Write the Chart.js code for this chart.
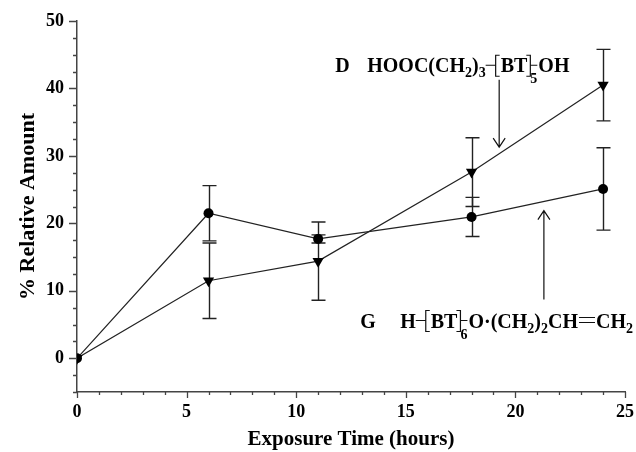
<!DOCTYPE html>
<html>
<head>
<meta charset="utf-8">
<script src="https://cdn.jsdelivr.net/npm/chart.js@4.4.0/dist/chart.umd.min.js"></script>
<style>
  html, body { margin: 0; padding: 0; background: #fff; }
</style>
</head>
<body>
<canvas id="myChart" width="636" height="452"></canvas>
<script>
// data
var hours = [0, 6, 11, 18, 24];
var amountD = [0, 11.5, 14.4, 27.6, 40.5];
var errD = [0, 5.6, 5.8, 5.1, 5.3];
var amountG = [0, 21.5, 17.7, 20.95, 25.1];
var errG = [0, 4.1, 0.6, 2.9, 6.1];
var xTickLabels = [0, 5, 10, 15, 20, 25];
var yTickLabels = [0, 10, 20, 30, 40, 50];

var serif = '"Liberation Serif", "Times New Roman", serif';
var lineCol = '#222';
var axisCol = '#444';

function points(xs, ys) {
    return xs.map(function (x, i) { return { x: x, y: ys[i] }; });
}

// error bars drawn under the markers
var errorBars = {
    id: 'errorBars',
    beforeDatasetsDraw: function (chart) {
        var ctx = chart.ctx, xs = chart.scales.x, ys = chart.scales.y;
        ctx.save();
        ctx.strokeStyle = lineCol;
        ctx.lineWidth = 1.4;
        chart.data.datasets.forEach(function (ds) {
            ds.data.forEach(function (pt, i) {
                var e = ds.errors[i];
                if (!e) return;
                var px = Math.round(xs.getPixelForValue(pt.x)) + 0.5;
                var top = ys.getPixelForValue(pt.y + e);
                var bot = ys.getPixelForValue(pt.y - e);
                ctx.beginPath();
                ctx.moveTo(px, top); ctx.lineTo(px, bot);
                ctx.moveTo(px - 7, top); ctx.lineTo(px + 7, top);
                ctx.moveTo(px - 7, bot); ctx.lineTo(px + 7, bot);
                ctx.stroke();
            });
        });
        ctx.restore();
    }
};

// major / minor tick marks and axis titles
var axisDecor = {
    id: 'axisDecor',
    afterDraw: function (chart) {
        var ctx = chart.ctx, xs = chart.scales.x, ys = chart.scales.y, a = chart.chartArea;
        ctx.save();
        ctx.strokeStyle = axisCol;
        ctx.lineWidth = 1.3;
        ctx.beginPath();
        for (var v = 0; v <= 25; v++) {
            var px = Math.round(xs.getPixelForValue(v)) + 0.5;
            ctx.moveTo(px, a.bottom);
            ctx.lineTo(px, a.bottom + (v % 5 === 0 ? 6 : 3));
        }
        for (var w = -5; w <= 50; w += 2.5) {
            var py = Math.round(ys.getPixelForValue(w)) + 0.5;
            ctx.moveTo(a.left, py);
            ctx.lineTo(a.left - (w % 10 === 0 ? 8 : 4), py);
        }
        ctx.stroke();

        ctx.fillStyle = '#000';
        ctx.font = 'bold 21px ' + serif;
        ctx.textAlign = 'center';
        ctx.textBaseline = 'alphabetic';
        ctx.fillText('Exposure Time (hours)', (a.left + a.right) / 2, 445);
        ctx.font = 'bold 22px ' + serif;
        ctx.translate(34, (a.top + a.bottom) / 2);
        ctx.rotate(-Math.PI / 2);
        ctx.fillText('% Relative Amount', 0, 0);
        ctx.restore();
    }
};

// structure labels with arrows
function drawFormula(ctx, x, y, parts) {
    var big = 'bold 20px ' + serif, small = 'bold 14px ' + serif;
    ctx.textAlign = 'left';
    ctx.textBaseline = 'alphabetic';
    parts.forEach(function (p) {
        if (p.t === 'txt') {
            ctx.font = big;
            ctx.fillText(p.s, x, y);
            x += ctx.measureText(p.s).width;
        } else if (p.t === 'sub') {
            ctx.font = small;
            ctx.fillText(p.s, x, y + 5);
            x += ctx.measureText(p.s).width;
        } else if (p.t === 'open') {
            ctx.beginPath();
            ctx.moveTo(x, y - 7); ctx.lineTo(x + 10, y - 7);
            ctx.moveTo(x + 14, y - 17); ctx.lineTo(x + 10, y - 17);
            ctx.lineTo(x + 10, y + 4); ctx.lineTo(x + 14, y + 4);
            ctx.stroke();
            x += 15;
        } else if (p.t === 'close') {
            ctx.beginPath();
            ctx.moveTo(x - 1, y - 17); ctx.lineTo(x + 3, y - 17);
            ctx.lineTo(x + 3, y + 4); ctx.lineTo(x - 1, y + 4);
            ctx.moveTo(x + 3, y - 7); ctx.lineTo(x + 10, y - 7);
            ctx.stroke();
            ctx.font = small;
            ctx.fillText(p.s, x + 3, y + 11);
            x += 11;
        } else if (p.t === 'dbl') {
            ctx.beginPath();
            ctx.moveTo(x + 1, y - 5); ctx.lineTo(x + 17, y - 5);
            ctx.moveTo(x + 1, y - 10); ctx.lineTo(x + 17, y - 10);
            ctx.stroke();
            x += 18;
        }
    });
}

function arrow(ctx, x, y0, y1) {
    var dir = y1 > y0 ? 1 : -1;
    ctx.beginPath();
    ctx.moveTo(x, y0); ctx.lineTo(x, y1);
    ctx.moveTo(x - 6, y1 - dir * 9); ctx.lineTo(x, y1); ctx.lineTo(x + 6, y1 - dir * 9);
    ctx.stroke();
}

var labels = {
    id: 'labels',
    afterDraw: function (chart) {
        var ctx = chart.ctx, xs = chart.scales.x, ys = chart.scales.y;
        ctx.save();
        ctx.fillStyle = '#000';
        ctx.strokeStyle = '#111';
        ctx.lineWidth = 1.2;

        var dx = xs.getPixelForValue(11.78), dy = ys.getPixelForValue(42.4);
        ctx.font = 'bold 20px ' + serif;
        ctx.textAlign = 'left';
        ctx.fillText('D', dx, dy);
        drawFormula(ctx, dx + 32, dy, [
            { t: 'txt', s: 'HOOC(CH' }, { t: 'sub', s: '2' }, { t: 'txt', s: ')' }, { t: 'sub', s: '3' },
            { t: 'open' }, { t: 'txt', s: 'BT' }, { t: 'close', s: '5' }, { t: 'txt', s: 'OH' }
        ]);

        var gx = xs.getPixelForValue(12.92), gy = ys.getPixelForValue(4.56);
        ctx.font = 'bold 20px ' + serif;
        ctx.fillText('G', gx, gy);
        drawFormula(ctx, gx + 40, gy, [
            { t: 'txt', s: 'H' }, { t: 'open' }, { t: 'txt', s: 'BT' }, { t: 'close', s: '6' },
            { t: 'txt', s: 'O\u00b7(CH' }, { t: 'sub', s: '2' }, { t: 'txt', s: ')' }, { t: 'sub', s: '2' },
            { t: 'txt', s: 'CH' }, { t: 'dbl' }, { t: 'txt', s: 'CH' }, { t: 'sub', s: '2' }
        ]);

        arrow(ctx, xs.getPixelForValue(19.26), ys.getPixelForValue(41.3), ys.getPixelForValue(31.3));
        arrow(ctx, xs.getPixelForValue(21.3), ys.getPixelForValue(8.7), ys.getPixelForValue(21.9));
        ctx.restore();
    }
};

var ctx = document.getElementById('myChart').getContext('2d');
var chart = new Chart(ctx, {
    type: 'line',
    data: {
        datasets: [{
            label: 'D',
            data: points(hours, amountD),
            errors: errD,
            borderColor: lineCol,
            borderWidth: 1.2,
            backgroundColor: '#000',
            pointStyle: 'triangle',
            pointRotation: 180,
            pointRadius: 6.5,
            pointBorderWidth: 0,
            tension: 0
        }, {
            label: 'G',
            data: points(hours, amountG),
            errors: errG,
            borderColor: lineCol,
            borderWidth: 1.2,
            backgroundColor: '#000',
            pointStyle: 'circle',
            pointRadius: 5,
            pointBorderWidth: 0,
            tension: 0
        }]
    },
    options: {
        responsive: false,
        animation: false,
        devicePixelRatio: 1,
        layout: { padding: { top: 21, right: 11, left: 0, bottom: 0 } },
        plugins: { legend: { display: false }, tooltip: { enabled: false } },
        scales: {
            x: {
                type: 'linear',
                min: 0, max: 25,
                afterBuildTicks: function (axis) { axis.ticks = xTickLabels.map(function (v) { return { value: v }; }); },
                afterFit: function (axis) { axis.height = 60; axis.paddingLeft = 0; axis.paddingRight = 0; },
                grid: { display: true, drawOnChartArea: false, drawTicks: false },
                border: { display: true, color: axisCol, width: 1.5 },
                ticks: { color: '#000', padding: 10, maxRotation: 0, font: { family: serif, size: 18, weight: 'bold' } }
            },
            y: {
                type: 'linear',
                min: -5, max: 50,
                afterBuildTicks: function (axis) { axis.ticks = yTickLabels.map(function (v) { return { value: v }; }); },
                afterFit: function (axis) { axis.width = 77; axis.paddingTop = 0; axis.paddingBottom = 0; },
                grid: { display: true, drawOnChartArea: false, drawTicks: false },
                border: { display: true, color: axisCol, width: 1.5 },
                ticks: { color: '#000', padding: 13, font: { family: serif, size: 18, weight: 'bold' } }
            }
        }
    },
    plugins: [errorBars, axisDecor, labels]
});
</script>
</body>
</html>
